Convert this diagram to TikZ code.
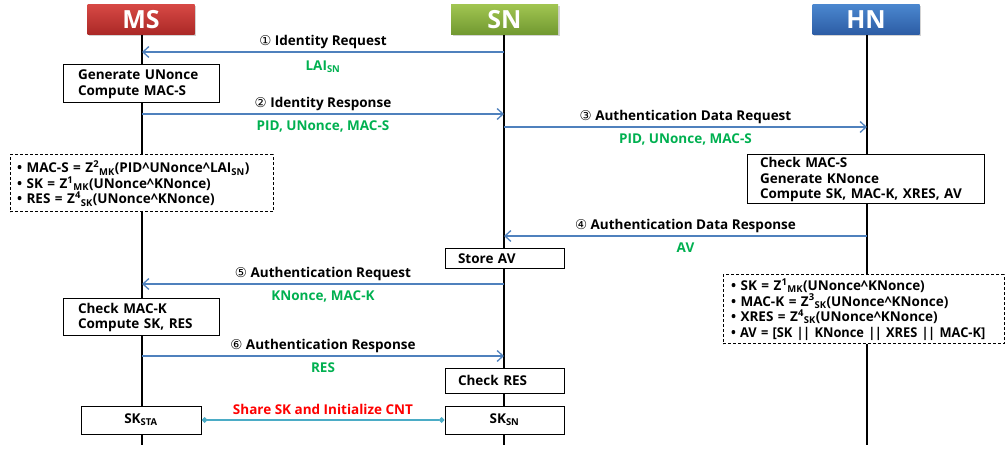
\documentclass[tikz,border=0pt]{standalone}
\usepackage{fontspec}
\setmainfont{Open Sans}
\newfontfamily\circfont{DejaVu Sans}
\usetikzlibrary{arrows.meta,shadows,calc}
\definecolor{msgblue}{RGB}{79,129,189}
\definecolor{lblgreen}{RGB}{0,176,80}
\definecolor{lblred}{RGB}{255,0,0}
\definecolor{linkteal}{RGB}{75,172,198}
\definecolor{msTop}{RGB}{214,72,68}
\definecolor{msBot}{RGB}{170,40,38}
\definecolor{snTop}{RGB}{160,196,80}
\definecolor{snBot}{RGB}{112,152,48}
\definecolor{hnTop}{RGB}{74,134,206}
\definecolor{hnBot}{RGB}{44,92,164}
\newcommand\mysub[1]{\textsubscript{#1}}
\newcommand\mysup[1]{\textsuperscript{#1}}
\newcommand\circnum[1]{{\circfont\mdseries #1}}
\begin{document}
\begin{tikzpicture}[x=1pt,y=-1pt,
  head/.style={minimum width=107pt, minimum height=30pt, inner sep=0pt, text=white,
    font=\fontsize{25}{27}\selectfont\bfseries,
    drop shadow={shadow xshift=1.5pt, shadow yshift=-1.5pt, opacity=0.35}},
  life/.style={line width=2.6pt, black},
  msg/.style={draw=msgblue, line width=1.3pt, -{Straight Barb[length=6pt,width=11pt]}},
  txt/.style={font=\fontsize{13.5}{15.5}\selectfont\bfseries},
  box/.style={txt, draw, line width=1pt, fill=white, align=left, inner ysep=0pt},
  dbox/.style={box, dash pattern=on 3pt off 2pt},
  lbl/.style={txt, midway, yshift=10pt},
  glbl/.style={txt, midway, yshift=-12pt, text=lblgreen},
  link/.style={draw=linkteal, line width=1.3pt, {Diamond[length=6pt,width=6pt]}-{Diamond[length=6pt,width=6pt]}}
]
\useasboundingbox (0,0) rectangle (1005,449);

% headers
\node[head, top color=msTop, bottom color=msBot] (ms) at (141,20) {MS};
\node[head, top color=snTop, bottom color=snBot] (sn) at (504.5,20) {SN};
\node[head, top color=hnTop, bottom color=hnBot] (hn) at (866,20) {HN};

% lifelines
\coordinate (msT) at (142,35); \coordinate (msB) at (142,445);
\coordinate (snT) at (504,35); \coordinate (snB) at (504,445);
\coordinate (hnT) at (867,35); \coordinate (hnB) at (867,445);
\draw[life] (msT) -- (msB);
\draw[life] (snT) -- (snB);
\draw[life] (hnT) -- (hnB);

% message anchor points
\coordinate (ms1) at (142,52);  \coordinate (sn1) at (504,52);
\coordinate (ms2) at (142,114); \coordinate (sn2) at (504,114);
\coordinate (sn3) at (504,127); \coordinate (hn3) at (867,127);
\coordinate (sn4) at (504,236); \coordinate (hn4) at (867,236);
\coordinate (ms5) at (142,284); \coordinate (sn5) at (504,284);
\coordinate (ms6) at (142,356); \coordinate (sn6) at (504,356);

% boxes
\node[box, text width=126pt, inner xsep=15pt, minimum height=38pt] (gen) at (141,84)
  {Generate UNonce\\Compute MAC-S};
\node[dbox, text width=249pt, inner xsep=7pt, minimum height=57pt] (fl) at (141.5,183.5)
  {\textbullet\ MAC-S = Z\mysup{2}\mysub{MK}(PID\textasciicircum UNonce\textasciicircum LAI\mysub{SN})\\
   \textbullet\ SK = Z\mysup{1}\mysub{MK}(UNonce\textasciicircum KNonce)\\
   \textbullet\ RES = Z\mysup{4}\mysub{SK}(UNonce\textasciicircum KNonce)};
\node[box, text width=211pt, inner xsep=13pt, minimum height=49pt] (chk) at (865.5,179.5)
  {Check MAC-S\\Generate KNonce\\Compute SK, MAC-K, XRES, AV};
\node[box, text width=93pt, inner xsep=13pt, minimum height=20pt] (store) at (504.5,259) {Store AV};
\node[dbox, text width=265pt, inner xsep=8pt, minimum height=69pt] (fr) at (863.5,309.5)
  {\textbullet\ SK = Z\mysup{1}\mysub{MK}(UNonce\textasciicircum KNonce)\\
   \textbullet\ MAC-K = Z\mysup{3}\mysub{SK}(UNonce\textasciicircum KNonce)\\
   \textbullet\ XRES = Z\mysup{4}\mysub{SK}(UNonce\textasciicircum KNonce)\\
   \scalebox{0.95}[1]{\textbullet\ AV = [SK |\kern-0.6pt| KNonce |\kern-0.6pt| XRES |\kern-0.6pt| MAC-K]}};
\node[box, text width=126pt, inner xsep=15pt, minimum height=37pt] (ck) at (141,317.5)
  {Check MAC-K\\Compute SK, RES};
\node[box, text width=93pt, inner xsep=13pt, minimum height=25pt] (cres) at (504.5,380.5) {Check RES};
\node[box, minimum width=120pt, minimum height=28pt, align=center] (sksta) at (141,420) {SK\mysub{STA}};
\node[box, minimum width=119pt, minimum height=28pt, align=center] (sksn) at (504.5,420) {SK\mysub{SN}};

% messages
\draw[msg] (sn1) -- (ms1)
  node[lbl] {\circnum{①} Identity Request}
  node[glbl, yshift=-3pt] {LAI\mysub{SN}};
\draw[msg] (ms2) -- (sn2)
  node[lbl] {\circnum{②} Identity Response}
  node[glbl] {PID, UNonce, MAC-S};
\draw[msg] (sn3) -- (hn3)
  node[lbl] {\circnum{③} Authentication Data Request}
  node[glbl] {PID, UNonce, MAC-S};
\draw[msg] (hn4) -- (sn4)
  node[lbl] {\circnum{④} Authentication Data Response}
  node[glbl] {AV};
\draw[msg] (sn5) -- (ms5)
  node[lbl] {\circnum{⑤} Authentication Request}
  node[glbl] {KNonce, MAC-K};
\draw[msg] (ms6) -- (sn6)
  node[lbl] {\circnum{⑥} Authentication Response}
  node[glbl] {RES};

% shared key link
\draw[link] (sksta.east) -- (sksn.west)
  node[txt, midway, yshift=11pt, text=lblred] {Share SK and Initialize CNT};
\end{tikzpicture}
\end{document}
